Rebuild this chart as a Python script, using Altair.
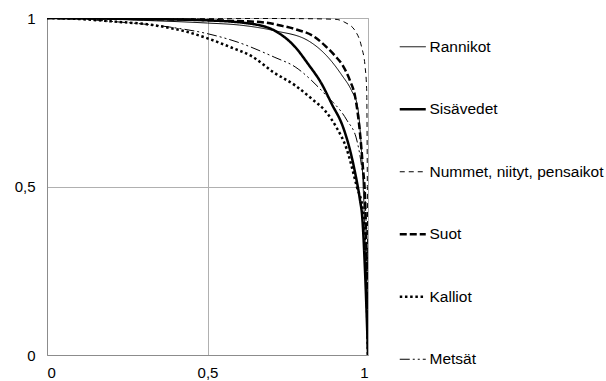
import altair as alt
import pandas as pd

series = ["Rannikot", "Sisävedet", "Nummet, niityt, pensaikot", "Suot", "Kalliot", "Metsät"]

rannikot_x = [0, 0.1, 0.3, 0.5, 0.6, 0.71, 0.813, 0.875, 0.918, 0.949, 0.967, 0.985, 0.994, 1.0]
rannikot_y = [1, 0.999, 0.993, 0.985, 0.979, 0.962, 0.933, 0.884, 0.831, 0.784, 0.740, 0.5, 0.25, 0]

sisavedet_x = [0, 0.1, 0.3, 0.5, 0.642, 0.71, 0.773, 0.813, 0.856, 0.887, 0.922, 0.944, 0.960, 0.975, 0.982, 0.991, 1.0]
sisavedet_y = [1, 0.999, 0.997, 0.993, 0.982, 0.962, 0.914, 0.864, 0.804, 0.745, 0.677, 0.608, 0.540, 0.460, 0.410, 0.243, 0]

nummet_x = [0, 0.5, 0.8, 0.9, 0.928, 0.960, 0.980, 0.991, 0.996, 0.998, 1.0]
nummet_y = [1, 0.999, 0.998, 0.996, 0.987, 0.962, 0.914, 0.855, 0.784, 0.5, 0]

suot_x = [0, 0.3, 0.5, 0.59, 0.664, 0.731, 0.773, 0.835, 0.866, 0.897, 0.922, 0.944, 0.960, 0.975, 0.984, 0.991, 0.997, 1.0]
suot_y = [1, 0.997, 0.994, 0.991, 0.988, 0.977, 0.967, 0.943, 0.918, 0.888, 0.858, 0.814, 0.766, 0.659, 0.558, 0.46, 0.22, 0]

kalliot_x = [0, 0.1, 0.2, 0.33, 0.436, 0.502, 0.570, 0.642, 0.704, 0.773, 0.825, 0.866, 0.902, 0.934, 0.965, 0.984, 0.994, 1.0]
kalliot_y = [1, 0.997, 0.99, 0.979, 0.959, 0.939, 0.914, 0.884, 0.840, 0.800, 0.760, 0.725, 0.675, 0.610, 0.5, 0.43, 0.25, 0]

metsat_x = [0, 0.1, 0.2, 0.383, 0.502, 0.592, 0.710, 0.773, 0.825, 0.866, 0.934, 0.965, 0.980, 0.991, 0.997, 1.0]
metsat_y = [1, 0.997, 0.99, 0.973, 0.953, 0.929, 0.883, 0.855, 0.814, 0.774, 0.697, 0.638, 0.559, 0.46, 0.25, 0]

data = [
    ("Rannikot", rannikot_x, rannikot_y),
    ("Sisävedet", sisavedet_x, sisavedet_y),
    ("Nummet, niityt, pensaikot", nummet_x, nummet_y),
    ("Suot", suot_x, suot_y),
    ("Kalliot", kalliot_x, kalliot_y),
    ("Metsät", metsat_x, metsat_y),
]

dashes = [[1, 0], [1, 0], [5, 4], [7, 3], [2.5, 2.7], [10, 3, 2, 3, 2, 3]]
widths = [1, 2.5, 1, 2.5, 2.5, 1]
width_of = dict(zip(series, widths))

rows = []
for name, xs, ys in data:
    for i, (a, b) in enumerate(zip(xs, ys)):
        rows.append({"series": name, "x": a, "y": b, "i": i, "w": width_of[name]})
df = pd.DataFrame(rows)

FONT = "Liberation Sans"

width_expr = " : ".join(
    f"datum.value == '{s}' ? {w}" for s, w in zip(series[:-1], widths[:-1])
) + f" : {widths[-1]}"

legend = alt.Legend(
    title=None, orient="none", legendX=358, legendY=21,
    symbolType="stroke", symbolSize=676, symbolStrokeColor="black",
    symbolStrokeWidth=alt.ExprRef(expr=width_expr),
    rowPadding=45.5, labelFontSize=15.5, labelFont=FONT, labelColor="black",
    labelOffset=9, labelLimit=300,
)

label_expr = "replace(format(datum.value, '~g'), '.', ',')"

chart = alt.Chart(df).mark_line(color="black", interpolate="monotone", clip=True).encode(
    x=alt.X("x:Q", scale=alt.Scale(domain=[0, 1], nice=False),
            axis=alt.Axis(values=[0, 0.5, 1], title=None, labelExpr=label_expr,
                          labelPadding=10)),
    y=alt.Y("y:Q", scale=alt.Scale(domain=[0, 1], nice=False),
            axis=alt.Axis(values=[0, 0.5, 1], title=None, labelExpr=label_expr,
                          labelPadding=12)),
    strokeDash=alt.StrokeDash("series:N", scale=alt.Scale(domain=series, range=dashes), legend=legend),
    strokeWidth=alt.StrokeWidth("w:Q", scale=None, legend=None),
    order="i:Q",
    detail="series:N",
).properties(
    width=321, height=337,
    padding={"left": 47, "top": 18, "right": 238, "bottom": 26},
    autosize=alt.AutoSizeParams(type="none"),
).configure_axis(
    domainColor="#8c8c8c", gridColor="#b0b0b0", ticks=False,
    labelFont=FONT, labelFontSize=15, labelColor="black",
).configure_view(stroke="#b0b0b0")

chart.save("out.html", embed_options={"renderer": "svg", "actions": False})
